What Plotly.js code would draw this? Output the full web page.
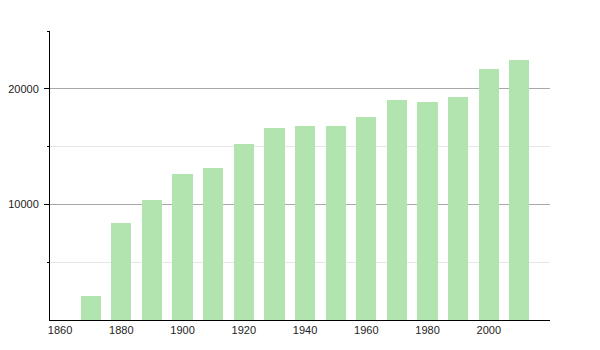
<!DOCTYPE html>
<html>
<head>
<meta charset="utf-8">
<script src="https://cdn.plot.ly/plotly-3.0.1.min.js"></script>
<style>html,body{margin:0;padding:0;background:#fff;}#chart{width:600px;height:350px;}</style>
</head>
<body>
<div id="chart"></div>
<script>
var years = [1870, 1880, 1890, 1900, 1910, 1920, 1930, 1940, 1950, 1960, 1970, 1980, 1990, 2000, 2010];
var population = [2080, 8420, 10390, 12640, 13160, 15240, 16620, 16800, 16800, 17580, 19050, 18900, 19280, 21700, 22500];
var xTickVals = [1860, 1880, 1900, 1920, 1940, 1960, 1980, 2000];
var yTickVals = [10000, 20000];
var yTickText = ['10000', '20000'];
var yMinorVals = [5000, 15000, 25000];

var trace = {
  type: 'bar',
  x: years,
  y: population,
  width: 6.6,
  marker: {color: 'rgb(178,228,176)', line: {width: 0}},
  hoverinfo: 'x+y'
};

var layout = {
  width: 600, height: 350,
  margin: {l: 50, r: 50, t: 31, b: 30, pad: 0},
  paper_bgcolor: '#fff', plot_bgcolor: '#fff',
  font: {family: 'Liberation Sans, Arial, sans-serif', size: 11, color: '#222'},
  showlegend: false,
  bargap: 0,
  xaxis: {
    range: [1856.7, 2020],
    tickmode: 'array', tickvals: xTickVals,
    showgrid: false, zeroline: false,
    showline: true, linecolor: '#000', linewidth: 1,
    ticks: '', ticklen: 0,
    tickfont: {size: 11, color: '#222'}
  },
  yaxis: {
    range: [0, 25000],
    tickmode: 'array', tickvals: yTickVals, ticktext: yTickText,
    showgrid: true, gridcolor: '#a8a8a8', gridwidth: 1,
    zeroline: false,
    showline: true, linecolor: '#000', linewidth: 1,
    ticks: 'outside', ticklen: 5, tickcolor: '#000',
    ticklabelstandoff: 3,
    tickfont: {size: 11, color: '#222'},
    minor: {tickmode: 'array', tickvals: yMinorVals, ticks: 'outside', ticklen: 2, tickcolor: '#000', showgrid: true, gridcolor: '#e6e6e6', gridwidth: 1}
  }
};

Plotly.newPlot('chart', [trace], layout, {displayModeBar: false, staticPlot: true});
</script>
</body>
</html>
